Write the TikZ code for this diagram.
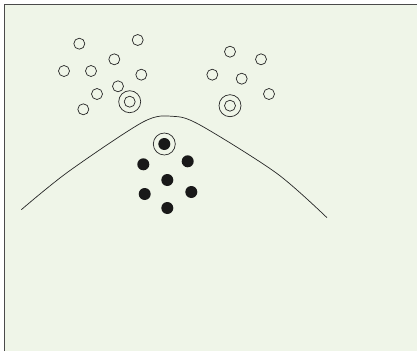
\documentclass[tikz,border=0pt]{standalone}
\usepackage{xcolor}
\usepackage{tikz}
\usetikzlibrary{positioning}
\usetikzlibrary{calc}
\definecolor{bgpale}{HTML}{EFF5E8}
\definecolor{framegray}{HTML}{4A4A4A}
\tikzset{
    open/.style={circle, draw=black!85, line width=0.7pt, minimum size=11pt, inner sep=0pt},
    full/.style={circle, fill=black!90, minimum size=12pt, inner sep=0pt},
    ring/.style={circle, draw=black!85, line width=0.7pt, minimum size=22pt, inner sep=0pt}
}

\begin{document}
\begin{tikzpicture}[x=1pt, y=-1pt]
    \useasboundingbox (0,0) rectangle (417,351);
    \fill[bgpale] (4.5,4.5) rectangle (417,351);
    \draw[framegray, line width=1.5pt] (4.5,351) -- (4.5,4.5) -- (417,4.5);

    % left cluster
    \node[open] (l1) at (79.3,43.7) {};
    \node[open] (l2) at (137.7,40) {};
    \node[open] (l3) at (114.3,59.3) {};
    \node[open] (l4) at (64,71) {};
    \node[open] (l5) at (91,71) {};
    \node[open] (l6) at (141.3,74.7) {};
    \node[open] (l7) at (118,86.3) {};
    \node[open] (l8) at (97,94) {};
    \node[open] (l9) at (83.3,109.3) {};
    \node[ring] (lr) at (129.7,101.7) {};
    \node[open] (lc) at (lr) {};

    % right cluster
    \node[open] (r1) at (230,51.7) {};
    \node[open] (r2) at (261,59.3) {};
    \node[open] (r3) at (212.3,74.7) {};
    \node[open] (r4) at (241.7,78.7) {};
    \node[open] (r5) at (269,94) {};
    \node[ring] (rr) at (230,105.7) {};
    \node[open] (rc) at (rr) {};

    % filled cluster
    \node[ring] (hr) at (164.3,144) {};
    \node[full] (hc) at (hr) {};
    \node[full] (f1) at (143.3,164.3) {};
    \node[full] (f2) at (187.7,161.3) {};
    \node[full] (f3) at (167.3,180) {};
    \node[full] (f4) at (144.7,194) {};
    \node[full] (f5) at (191.3,192) {};
    \node[full] (f6) at (167.3,208) {};

    % boundary
    \coordinate (b1) at (21.3,209.7);
    \coordinate (b2) at (68.3,171.7);
    \coordinate (b3) at (143,122);
    \coordinate (b4) at (172.7,116.3);
    \coordinate (b5) at (200,125);
    \coordinate (b6) at (276.7,173.3);
    \coordinate (b7) at (327,217.7);
    \draw[black!85, line width=0.7pt] plot[smooth, tension=0.5] coordinates {(b1) (b2) (b3) (b4) (b5) (b6) (b7)};
\end{tikzpicture}
\end{document}
